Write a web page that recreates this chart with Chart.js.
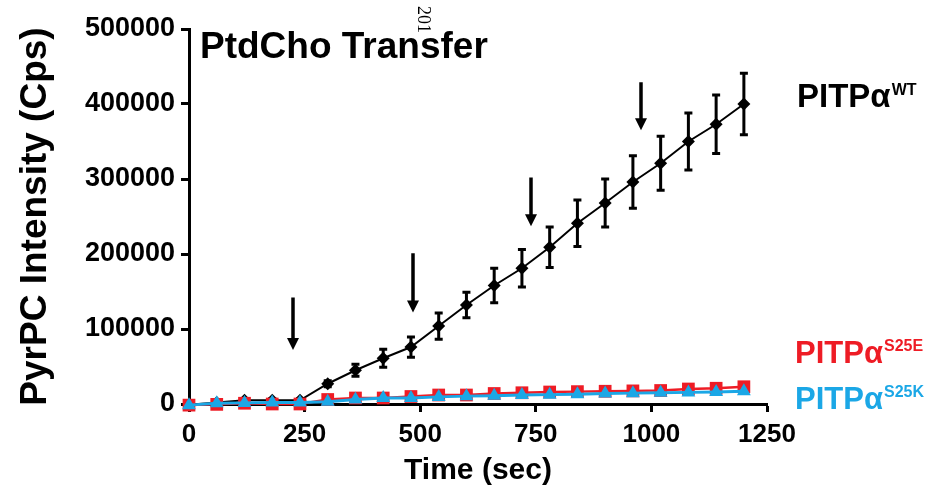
<!DOCTYPE html>
<html>
<head>
<meta charset="utf-8">
<script src="https://cdn.jsdelivr.net/npm/chart.js@4.4.1/dist/chart.umd.min.js"></script>
<style>
  html, body { margin: 0; padding: 0; background: #fff; }
  #wrap { width: 934px; height: 498px; }
</style>
</head>
<body>
<div id="wrap"><canvas id="transferChart" width="934" height="498"></canvas></div>
<script>
// time points (sec)
const times = [0, 60, 120, 180, 240, 300, 360, 420, 480, 540, 600, 660, 720, 780, 840, 900, 960, 1020, 1080, 1140, 1200];

// PITPa WT (mean and error)
const wtValues = [-1000, 2000, 5000, 5000, 5000, 27000, 45000, 61000, 76000, 104000, 132000, 158000, 181000, 209000, 241000, 268000, 296000, 321000, 350000, 373000, 400000];
const wtErrors = [1000, 1500, 2000, 2000, 2000, 4000, 8000, 12000, 13500, 17500, 17000, 23000, 25000, 27000, 31000, 32000, 35000, 36000, 38000, 39000, 41000];

// PITPa S25E and S25K
const s25eValues = [-1500, -500, 1000, 0, 0, 6000, 8000, 8000, 10000, 12000, 12000, 14000, 15000, 16000, 16500, 17000, 17500, 18000, 20000, 21000, 23000];
const s25kValues = [-1500, 1000, 1500, 2000, 2000, 3000, 6000, 8000, 8000, 9500, 10500, 11000, 12000, 12500, 13000, 14000, 14500, 15000, 15500, 16000, 17000];

const seriesNames = ['PITPα', 'PITPα', 'PITPα'];
const seriesSups = ['WT', 'S25E', 'S25K'];

const xTicks = [0, 250, 500, 750, 1000, 1250];
const yTicks = [0, 100000, 200000, 300000, 400000, 500000];

// addition arrows (time, arrow top value, arrow tip value)
const arrowTimes = [225, 484, 740, 977];
const arrowTops = [142000, 201000, 302000, 429000];
const arrowTips = [72000, 122000, 237000, 365000];

const BLACK = '#000000';
const RED = '#ee1c25';
const BLUE = '#1ba7e6';
const FONT = "'Liberation Sans', Arial, sans-serif";

// error bars drawn right after the WT dataset
const errorBarPlugin = {
    id: 'errorBars',
    afterDatasetDraw(chart, args) {
        if (args.index !== 0) return;
        const { ctx, scales: { x, y } } = chart;
        ctx.save();
        ctx.strokeStyle = BLACK;
        ctx.lineWidth = 3;
        times.forEach((t, i) => {
            const px = x.getPixelForValue(t);
            const top = y.getPixelForValue(wtValues[i] + wtErrors[i]);
            const bot = y.getPixelForValue(wtValues[i] - wtErrors[i]);
            ctx.beginPath();
            ctx.moveTo(px, top); ctx.lineTo(px, bot);
            ctx.moveTo(px - 4, top); ctx.lineTo(px + 4, top);
            ctx.moveTo(px - 4, bot); ctx.lineTo(px + 4, bot);
            ctx.stroke();
        });
        ctx.restore();
    }
};

// arrows + text
const annotationPlugin = {
    id: 'annotations',
    afterDatasetsDraw(chart) {
        const { ctx, scales: { x, y }, chartArea } = chart;
        ctx.save();
        ctx.fillStyle = BLACK;
        ctx.strokeStyle = BLACK;
        arrowTimes.forEach((t, i) => {
            const px = Math.round(x.getPixelForValue(t));
            const top = y.getPixelForValue(arrowTops[i]);
            const tip = y.getPixelForValue(arrowTips[i]);
            ctx.lineWidth = 3.5;
            ctx.beginPath();
            ctx.moveTo(px, top);
            ctx.lineTo(px, tip - 11);
            ctx.stroke();
            ctx.beginPath();
            ctx.moveTo(px - 6, tip - 12);
            ctx.lineTo(px + 6, tip - 12);
            ctx.lineTo(px, tip);
            ctx.closePath();
            ctx.fill();
        });

        // panel title
        ctx.font = 'bold 37px ' + FONT;
        ctx.textAlign = 'left';
        ctx.textBaseline = 'alphabetic';
        ctx.fillText('PtdCho Transfer', chartArea.left + 11, 58);

        // stray rotated mark
        ctx.save();
        ctx.translate(418, 6);
        ctx.rotate(Math.PI / 2);
        ctx.font = "18px 'Liberation Serif', serif";
        ctx.fillText('201', 0, 0);
        ctx.restore();

        // series labels
        const labelPos = [[797, 107, 33], [795, 363, 31], [795, 409, 31]];
        const colors = [BLACK, RED, BLUE];
        seriesNames.forEach((name, i) => {
            const [lx, ly, size] = labelPos[i];
            ctx.fillStyle = colors[i];
            ctx.font = 'bold ' + size + 'px ' + FONT;
            ctx.fillText(name, lx, ly);
            const w = ctx.measureText(name).width;
            ctx.font = 'bold 16px ' + FONT;
            ctx.fillText(seriesSups[i], lx + w + 1, ly - 12);
        });
        ctx.restore();
    }
};

const ctx = document.getElementById('transferChart').getContext('2d');

new Chart(ctx, {
    type: 'line',
    data: {
        labels: times,
        datasets: [
            {
                label: 'WT',
                data: times.map((t, i) => ({ x: t, y: wtValues[i] })),
                borderColor: BLACK,
                backgroundColor: BLACK,
                borderWidth: 2,
                pointStyle: 'rectRot',
                pointRadius: 6.5,
                pointBorderWidth: 0,
                clip: false,
                order: 2
            },
            {
                label: 'S25E',
                data: times.map((t, i) => ({ x: t, y: s25eValues[i] })),
                borderColor: RED,
                backgroundColor: RED,
                borderWidth: 2.5,
                pointStyle: 'rect',
                pointRadius: 9,
                pointBorderWidth: 0,
                clip: false,
                order: 1
            },
            {
                label: 'S25K',
                data: times.map((t, i) => ({ x: t, y: s25kValues[i] })),
                borderColor: BLUE,
                backgroundColor: BLUE,
                borderWidth: 3,
                pointStyle: 'triangle',
                pointRadius: 8,
                pointBorderWidth: 0,
                clip: false,
                order: 0
            }
        ]
    },
    options: {
        responsive: false,
        animation: false,
        devicePixelRatio: 1,
        layout: { padding: { left: 0, right: 167, top: 29, bottom: 0 } },
        plugins: {
            legend: { display: false },
            tooltip: { enabled: false }
        },
        scales: {
            x: {
                type: 'linear',
                min: 0,
                max: 1250,
                afterBuildTicks: scale => { scale.ticks = xTicks.map(v => ({ value: v })); },
                afterFit: scale => { scale.height = 94; },
                border: { display: true, color: BLACK, width: 3 },
                grid: { drawOnChartArea: false, drawTicks: true, tickLength: 8, tickWidth: 3, tickColor: BLACK },
                ticks: {
                    color: BLACK,
                    padding: 7,
                    maxRotation: 0,
                    callback: v => String(v),
                    font: { family: FONT, size: 26, weight: 'bold' }
                },
                title: {
                    display: true,
                    text: 'Time (sec)',
                    color: BLACK,
                    padding: { top: 0, bottom: 9 },
                    font: { family: FONT, size: 30, weight: 'bold' }
                }
            },
            y: {
                min: 0,
                max: 500000,
                afterBuildTicks: scale => { scale.ticks = yTicks.map(v => ({ value: v })); },
                afterFit: scale => { scale.width = 189; },
                border: { display: true, color: BLACK, width: 3 },
                grid: { drawOnChartArea: false, drawTicks: true, tickLength: 8, tickWidth: 3, tickColor: BLACK },
                ticks: {
                    color: BLACK,
                    padding: 6,
                    callback: v => String(v),
                    font: { family: FONT, size: 27, weight: 'bold' }
                },
                title: {
                    display: true,
                    text: 'PyrPC Intensity (Cps)',
                    color: BLACK,
                    padding: { top: 14, bottom: 0 },
                    font: { family: FONT, size: 37, weight: 'bold' }
                }
            }
        }
    },
    plugins: [errorBarPlugin, annotationPlugin]
});
</script>
</body>
</html>
